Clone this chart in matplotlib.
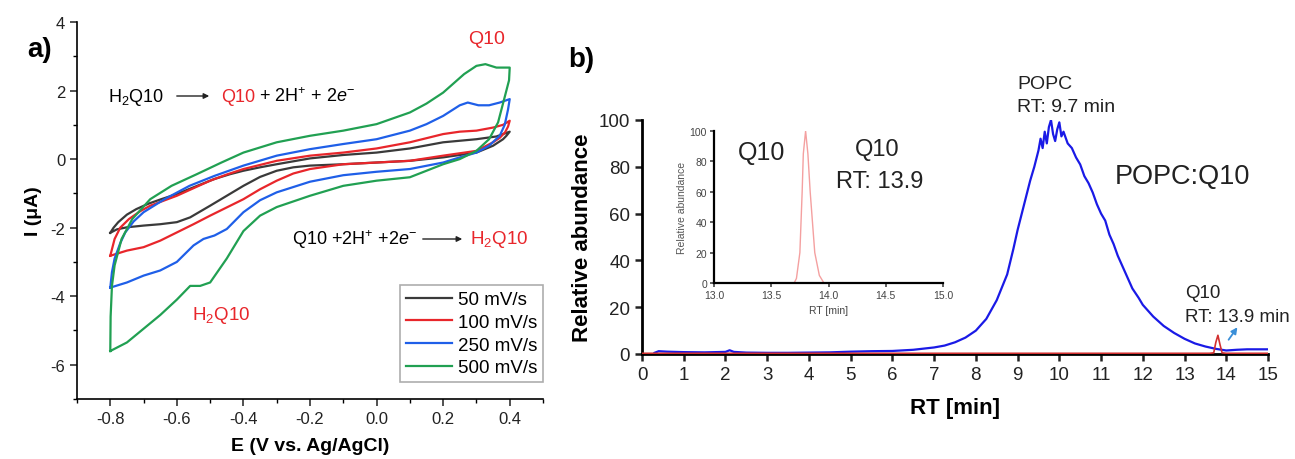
import numpy as np
import matplotlib
matplotlib.use("Agg")
import matplotlib.pyplot as plt

plt.rcParams['font.family'] = ['Liberation Sans', 'DejaVu Sans']
plt.rcParams['mathtext.fontset'] = 'custom'
plt.rcParams['mathtext.rm'] = 'Liberation Sans'
plt.rcParams['mathtext.it'] = 'Liberation Sans:italic'
plt.rcParams['axes.unicode_minus'] = False

# ---- panel a: cyclic voltammograms (anodic sweep then cathodic sweep)
cv_labels = ["50 mV/s", "100 mV/s", "250 mV/s", "500 mV/s"]
cv_colors = ["#3a3a3a", "#e8262b", "#1f5fe8", "#21a052"]

e_50 = [-0.8, -0.79, -0.776, -0.75, -0.722, -0.685, -0.647, -0.6, -0.562, -0.487, -0.44, -0.4, -0.35, -0.3,
        -0.2, -0.1, 0.0, 0.1, 0.15, 0.2, 0.3, 0.36, 0.4,
        0.39, 0.38, 0.35, 0.3, 0.2, 0.1, 0.0, -0.1, -0.2, -0.25, -0.3, -0.35, -0.4, -0.45, -0.5, -0.56, -0.6,
        -0.65, -0.7, -0.75, -0.78, -0.8]
i_50 = [-2.15, -2.0, -1.84, -1.62, -1.46, -1.3, -1.17, -1.02, -0.87, -0.58, -0.44, -0.34, -0.24, -0.15,
        0.02, 0.12, 0.19, 0.31, 0.4, 0.49, 0.58, 0.66, 0.8,
        0.68, 0.58, 0.39, 0.19, 0.05, -0.05, -0.1, -0.15, -0.19, -0.24, -0.34, -0.52, -0.78, -1.07, -1.36,
        -1.7, -1.84, -1.9, -1.94, -1.99, -2.05, -2.15]

e_100 = [-0.8, -0.787, -0.77, -0.744, -0.71, -0.68, -0.6, -0.5, -0.45, -0.4, -0.3, -0.2, -0.1, 0.0, 0.1,
         0.2, 0.25, 0.3, 0.35, 0.38, 0.4,
         0.395, 0.386, 0.37, 0.35, 0.3, 0.2, 0.1, 0.0, -0.1, -0.2, -0.25, -0.3, -0.35, -0.4, -0.45, -0.5,
         -0.55, -0.6, -0.65, -0.7, -0.75, -0.8]
i_100 = [-2.82, -2.33, -2.0, -1.75, -1.52, -1.36, -1.07, -0.63, -0.45, -0.29, -0.05, 0.1, 0.19, 0.31, 0.49,
         0.73, 0.8, 0.83, 0.92, 1.0, 1.12,
         0.95, 0.78, 0.62, 0.49, 0.24, 0.1, -0.05, -0.1, -0.15, -0.29, -0.42, -0.63, -0.88, -1.17, -1.41,
         -1.65, -1.9, -2.14, -2.38, -2.57, -2.67, -2.82]

e_250 = [-0.8, -0.795, -0.787, -0.77, -0.755, -0.73, -0.7, -0.637, -0.562, -0.487, -0.4, -0.3, -0.2, -0.1,
         0.0, 0.1, 0.15, 0.2, 0.25, 0.274, 0.306, 0.338, 0.37, 0.4,
         0.395, 0.385, 0.37, 0.338, 0.3, 0.25, 0.2, 0.1, 0.0, -0.1, -0.2, -0.3, -0.35, -0.4, -0.45, -0.487,
         -0.52, -0.55, -0.6, -0.65, -0.7, -0.75, -0.8]
i_250 = [-3.75, -3.3, -2.9, -2.45, -2.14, -1.82, -1.55, -1.17, -0.78, -0.49, -0.19, 0.1, 0.29, 0.44,
         0.58, 0.83, 1.02, 1.26, 1.57, 1.65, 1.57, 1.57, 1.65, 1.75,
         1.45, 1.0, 0.68, 0.39, 0.19, 0.05, -0.1, -0.29, -0.37, -0.47, -0.66, -0.97, -1.2, -1.55, -2.04,
         -2.23, -2.33, -2.52, -3.0, -3.25, -3.4, -3.6, -3.75]

e_500 = [-0.8, -0.799, -0.795, -0.787, -0.766, -0.734, -0.68, -0.616, -0.54, -0.466, -0.4, -0.3, -0.2, -0.1,
         0.0, 0.1, 0.15, 0.2, 0.263, 0.3, 0.327, 0.36, 0.4,
         0.398, 0.386, 0.365, 0.338, 0.3, 0.25, 0.2, 0.1, 0.0, -0.1, -0.2, -0.3, -0.35, -0.4, -0.45, -0.5,
         -0.53, -0.56, -0.6, -0.65, -0.7, -0.75, -0.8]
i_500 = [-5.6, -4.6, -3.7, -3.1, -2.33, -1.75, -1.17, -0.78, -0.44, -0.1, 0.19, 0.49, 0.68, 0.83,
         1.02, 1.36, 1.62, 1.94, 2.48, 2.72, 2.77, 2.67, 2.67,
         2.3, 1.85, 1.07, 0.58, 0.24, 0.0, -0.15, -0.53, -0.63, -0.78, -1.07, -1.4, -1.65, -2.1, -2.9, -3.6,
         -3.7, -3.7, -4.1, -4.55, -4.95, -5.35, -5.6]

cv_e = [e_50, e_100, e_250, e_500]
cv_i = [i_50, i_100, i_250, i_500]

# ---- panel b: chromatograms
rt_popc = [0.3, 0.4, 0.6, 1.0, 1.5, 2.0, 2.1, 2.2, 2.5, 3.0, 3.5, 4.0, 4.5, 5.0, 5.5, 6.0, 6.5, 7.0, 7.25,
           7.5, 7.75, 8.0, 8.25, 8.5, 8.75, 8.9, 9.0, 9.1, 9.2, 9.3, 9.4, 9.5, 9.55, 9.6, 9.65, 9.7, 9.75,
           9.8, 9.85, 9.9, 9.95, 10.0, 10.05, 10.1, 10.2, 10.3, 10.4, 10.5, 10.6, 10.7, 10.8, 10.9, 11.0,
           11.1, 11.2, 11.3, 11.4, 11.5, 11.6, 11.75, 11.9, 12.0, 12.25, 12.5, 12.75, 13.0, 13.25, 13.5,
           13.75, 14.0, 14.25, 14.5, 15.0]
ab_popc = [0.5, 1.2, 1.0, 0.8, 0.7, 0.9, 1.6, 0.9, 0.6, 0.5, 0.5, 0.6, 0.7, 1.0, 1.2, 1.3, 1.8, 2.8, 3.6,
           5.0, 7.0, 10.0, 15, 23, 34, 45, 53, 60, 67, 74, 80, 87, 92, 88, 95, 90, 97,
           100, 94, 91, 96, 99, 93, 95, 90, 88, 84, 81, 76, 73, 69, 64, 60,
           57, 51, 47, 42, 38, 34, 28, 24, 21, 16, 12, 9, 6.5, 4.5, 3.2,
           2.2, 1.5, 1.8, 2.0, 2.0]

rt_q10 = [0.0, 13.6, 13.7, 13.75, 13.8, 13.85, 13.9, 14.0, 15.0]
ab_q10 = [0.3, 0.3, 0.5, 5.0, 8.0, 4.0, 0.5, 0.3, 0.3]

rt_inset = [13.0, 13.70, 13.72, 13.75, 13.77, 13.78, 13.80, 13.82, 13.84, 13.86, 13.88, 13.92, 13.96, 15.0]
ab_inset = [0, 0, 3, 20, 60, 85, 100, 85, 60, 40, 20, 5, 0, 0]

W, H = 1295, 460
fig = plt.figure(figsize=(W / 100, H / 100), dpi=100)


def fx(px):
    return px / W


def fy(py):
    return 1 - py / H


# ---------------- panel a
ax = fig.add_axes([fx(77), fy(400), fx(543) - fx(77), fy(23) - fy(400)])
for e, i, c, lab in zip(cv_e, cv_i, cv_colors, cv_labels):
    ax.plot(e, i, color=c, lw=1.6, label=lab)
ax.set_xlim(-0.9, 0.5)
ax.set_ylim(-7, 4)
ax.set_xticks(np.arange(-0.8, 0.41, 0.2))
ax.set_xticks(np.arange(-0.9, 0.51, 0.1), minor=True)
ax.set_yticks(np.arange(-6, 4.1, 2))
ax.set_yticks(np.arange(-7, 4.1, 1), minor=True)
ax.xaxis.set_major_formatter(plt.FuncFormatter(lambda v, p: "%.1f" % v if abs(v) > 1e-9 else "0.0"))
for s in ["top", "right"]:
    ax.spines[s].set_visible(False)
for s in ["left", "bottom"]:
    ax.spines[s].set_linewidth(1.2)
ax.tick_params(which="major", direction="out", length=5, width=1.1, labelsize=12, colors="#222222")
ax.tick_params(which="minor", direction="out", length=3, width=1.0)
ax.set_xlabel("E (V vs. Ag/AgCl)", fontsize=14, fontweight="bold", labelpad=8)
ax.set_ylabel("I (μA)", fontsize=14, fontweight="bold", labelpad=6)
leg = ax.legend(loc="lower right", bbox_to_anchor=(1.0, 0.045), fontsize=13.5, frameon=True, fancybox=False,
                handlelength=2.5, handletextpad=0.3, labelspacing=0.3, borderpad=0.3, borderaxespad=0.0)
leg.get_frame().set_edgecolor("#999999")
leg.get_frame().set_linewidth(1.2)

fig.text(fx(40), fy(50), "a)", fontsize=20, fontweight="bold", ha="center", va="center")
fig.text(fx(487), fy(40), "Q10", fontsize=14, color="#e8262b", ha="center", va="center")
# oxidation equation
fig.text(fx(108), fy(97), "H$_2$Q10", fontsize=13, ha="left", va="center")
ax.annotate("", xy=(fx(212), fy(97)), xytext=(fx(174), fy(97)), xycoords="figure fraction",
            arrowprops=dict(arrowstyle="-|>", color="#222222", lw=1.0, mutation_scale=8))
fig.text(fx(221), fy(97), "Q10", fontsize=13, color="#e8262b", ha="left", va="center")
fig.text(fx(259), fy(97), "+ 2H$^{+}$ + 2$e^{-}$", fontsize=13, ha="left", va="center")
# reduction equation
fig.text(fx(292), fy(240), "Q10 +2H$^{+}$ +2$e^{-}$", fontsize=13, ha="left", va="center")
ax.annotate("", xy=(fx(465), fy(240)), xytext=(fx(420), fy(240)), xycoords="figure fraction",
            arrowprops=dict(arrowstyle="-|>", color="#222222", lw=1.0, mutation_scale=8))
fig.text(fx(470), fy(240), "H$_2$Q10", fontsize=13.5, color="#e8262b", ha="left", va="center")
fig.text(fx(192), fy(315), "H$_2$Q10", fontsize=13.5, color="#e8262b", ha="left", va="center")

# ---------------- panel b
bx = fig.add_axes([fx(642), fy(355), fx(1268) - fx(642), fy(121) - fy(355)])
bx.plot(rt_q10, ab_q10, color="#d23030", lw=1.2, zorder=3)
bx.plot(rt_popc, ab_popc, color="#1a1ae6", lw=1.6, zorder=2)
bx.set_xlim(0, 15)
bx.set_ylim(0, 100)
bx.set_xticks(range(0, 16))
bx.set_yticks(range(0, 101, 20))
for s in ["top", "right"]:
    bx.spines[s].set_visible(False)
for s in ["left", "bottom"]:
    bx.spines[s].set_linewidth(2.0)
bx.tick_params(direction="out", length=5, width=1.8, labelsize=13.5, colors="#222222")
bx.set_xlabel("RT [min]", fontsize=16, fontweight="bold", labelpad=10)
bx.set_ylabel("Relative abundance", fontsize=16, fontweight="bold", labelpad=4)
bx.annotate("", xy=(fx(1239), fy(326)), xytext=(fx(1227), fy(343)), xycoords="figure fraction",
            arrowprops=dict(arrowstyle="-|>", color="#3a8fd8", lw=1.3, mutation_scale=9))

fig.text(fx(581), fy(60), "b)", fontsize=20, fontweight="bold", ha="center", va="center")
fig.text(fx(1017), fy(85), "POPC", fontsize=14, ha="left", va="center", color="#222222")
fig.text(fx(1017), fy(107), "RT: 9.7 min", fontsize=14, ha="left", va="center", color="#222222")
fig.text(fx(1115), fy(177), "POPC:Q10", fontsize=19.5, ha="left", va="center", color="#222222")
fig.text(fx(1185), fy(293), "Q10", fontsize=13.5, ha="left", va="center", color="#222222")
fig.text(fx(1185), fy(317), "RT: 13.9 min", fontsize=13.5, ha="left", va="center", color="#222222")

# ---------------- inset
ix = fig.add_axes([fx(714), fy(284), fx(943) - fx(714), fy(132) - fy(284)])
ix.plot(rt_inset, ab_inset, color="#f4a0a0", lw=1.0)
ix.set_xlim(13, 15)
ix.set_ylim(0, 100)
ix.set_xticks([13.0, 13.5, 14.0, 14.5, 15.0])
ix.set_yticks(range(0, 101, 20))
for s in ["top", "right"]:
    ix.spines[s].set_visible(False)
for s in ["left", "bottom"]:
    ix.spines[s].set_linewidth(1.6)
ix.tick_params(direction="out", length=3, width=1.2, labelsize=7.5, colors="#444444", pad=2)
ix.set_xlabel("RT [min]", fontsize=7.5, color="#444444", labelpad=4)
ix.set_ylabel("Relative abundance", fontsize=7.5, color="#555555", labelpad=2)
fig.text(fx(762), fy(153), "Q10", fontsize=18, ha="center", va="center", color="#222222")
fig.text(fx(877), fy(150), "Q10", fontsize=17, ha="center", va="center", color="#222222")
fig.text(fx(880), fy(182), "RT: 13.9", fontsize=17, ha="center", va="center", color="#222222")

fig.savefig("out.png", dpi=100)
